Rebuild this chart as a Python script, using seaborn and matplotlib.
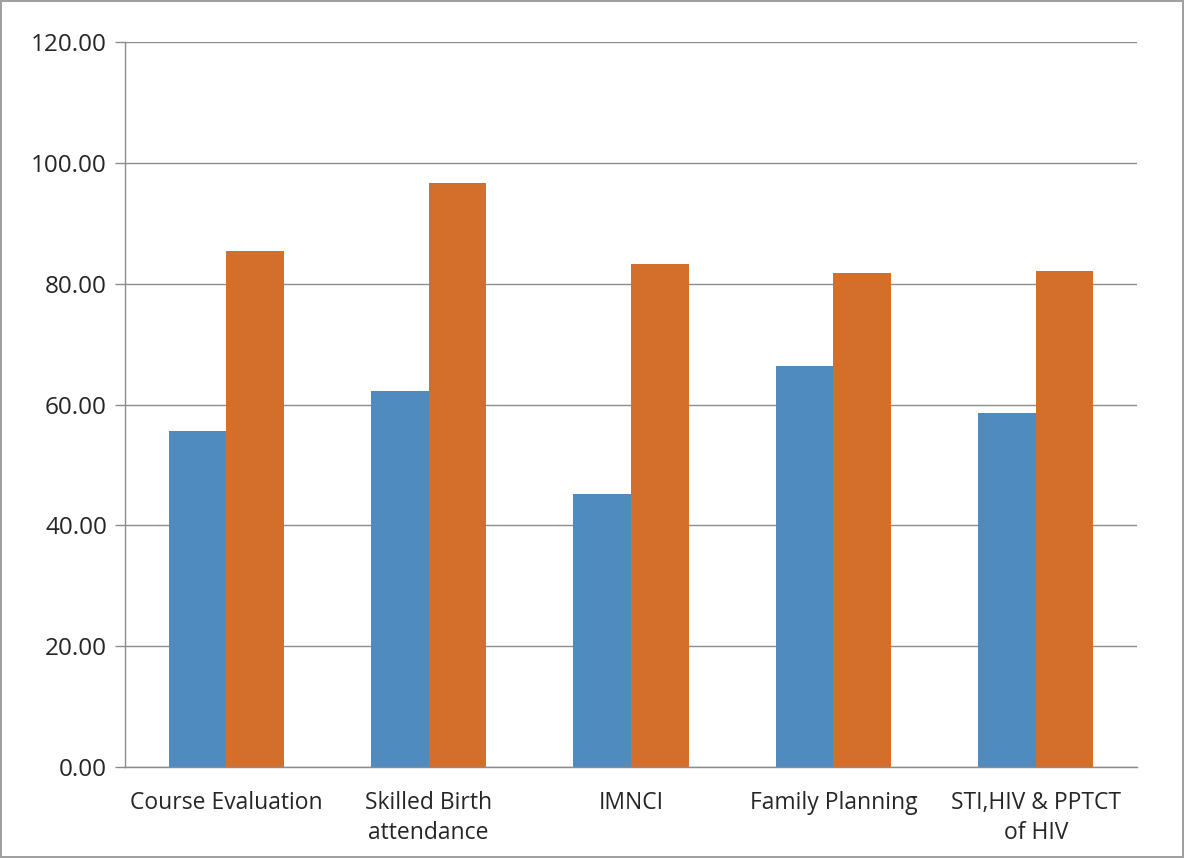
import matplotlib
matplotlib.use("Agg")
import matplotlib.pyplot as plt
import numpy as np
import pandas as pd
import seaborn as sns

categories = ["Course Evaluation", "Skilled Birth\nattendance", "IMNCI",
              "Family Planning", "STI,HIV & PPTCT\nof HIV"]
series_names = ["Pre-test", "Post-test"]
pre_values = [55.6, 62.2, 45.2, 66.4, 58.6]
post_values = [85.4, 96.7, 83.3, 81.8, 82.1]
y_ticks = [0, 20, 40, 60, 80, 100, 120]

df = pd.DataFrame({
    "category": categories * 2,
    "series": [series_names[0]] * len(categories) + [series_names[1]] * len(categories),
    "value": pre_values + post_values,
})

sns.set_style("white")
plt.rcParams["font.family"] = ["Open Sans", "DejaVu Sans"]

fig = plt.figure(figsize=(11.84, 8.58), dpi=100)
ax = fig.add_axes([0.1056, 0.1061, 0.8547, 0.8449])

sns.barplot(data=df, x="category", y="value", hue="series", order=categories,
            palette=["#4F8BBE", "#D46F2B"], width=0.57, gap=0, dodge=True,
            saturation=1, linewidth=0, legend=False, ax=ax)

ax.set_ylim(0, 120)
ax.set_xlim(-0.5, len(categories) - 0.5)
ax.set_yticks(y_ticks)
ax.set_yticklabels([f"{v:.2f}" for v in y_ticks], fontsize=17.5)
ax.yaxis.grid(True, color="#8C8C8C", linewidth=1)
ax.set_axisbelow(True)
ax.set_xlabel("")
ax.set_ylabel("")

ax.set_xticks(range(len(categories)))
ax.set_xticklabels(categories, fontsize=16.5, linespacing=1.35)
ax.set_xticks(np.arange(-0.5, len(categories), 1), minor=True)
ax.tick_params(axis="x", which="major", length=0, pad=17)
ax.tick_params(axis="x", which="minor", length=7, color="#8C8C8C", width=1)
ax.tick_params(axis="y", which="major", length=7, color="#8C8C8C", width=1, left=True, pad=6)

for side in ["top", "right"]:
    ax.spines[side].set_visible(False)
for side in ["left", "bottom"]:
    ax.spines[side].set_color("#8C8C8C")
    ax.spines[side].set_linewidth(1)

fig.patch.set_edgecolor("#A0A0A0")
fig.patch.set_linewidth(1.5)

fig.savefig("out.png", dpi=100, edgecolor=fig.get_edgecolor())
